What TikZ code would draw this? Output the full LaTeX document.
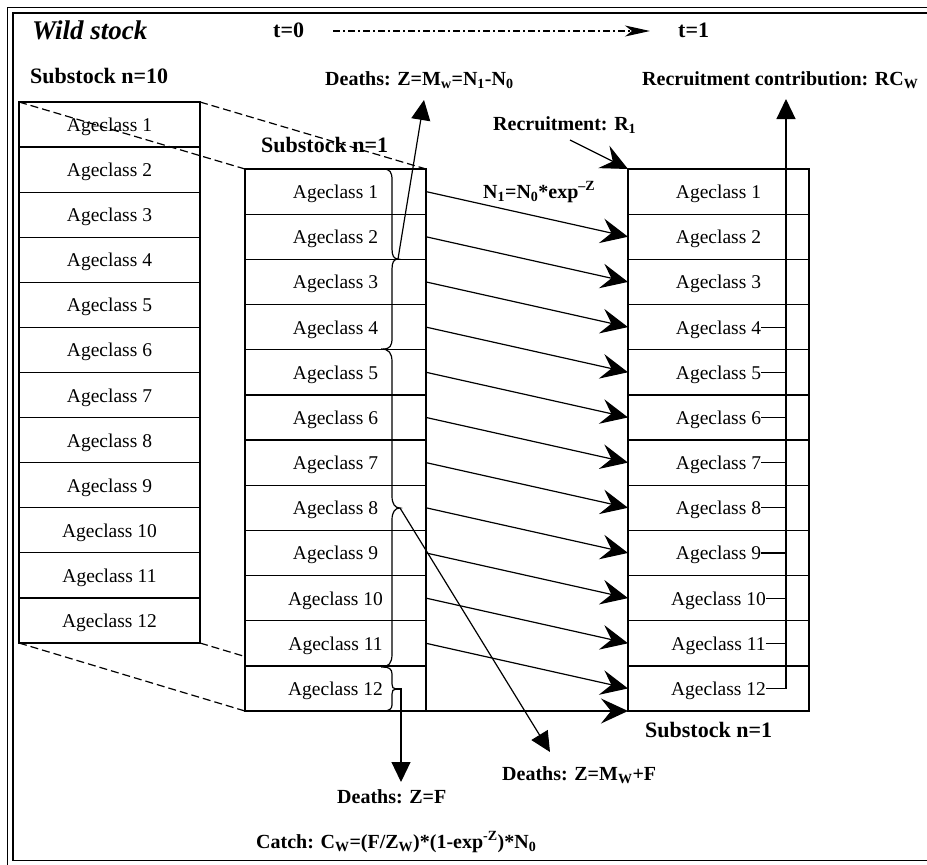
\documentclass[tikz,border=0pt]{standalone}
\usepackage{fontspec}
\setmainfont{Liberation Serif}
\usetikzlibrary{arrows.meta}
\begin{document}
\begin{tikzpicture}[x=1pt,y=-1pt,
  boxline/.style={draw,line width=1.3pt},
  agetxt/.style={font=\fontsize{19.5}{22}\selectfont,anchor=base,inner sep=0pt},
  lbl/.style={font=\fontsize{20}{24}\selectfont\bfseries,anchor=base west,inner sep=0pt},
  biglbl/.style={font=\fontsize{22}{26}\selectfont\bfseries,anchor=base west,inner sep=0pt},
  flow/.style={line width=1.2pt,-{Stealth[length=27pt,width=25pt,inset=10pt]}},
  uparrow/.style={line width=1.2pt,-{Triangle[length=20pt,width=19pt]}},
  bracepath/.style={line width=1.2pt},
  zoomline/.style={line width=1.2pt,dash pattern=on 8pt off 4pt},
  timeline/.style={line width=1.2pt,dash pattern=on 7pt off 3pt on 2pt off 3pt,-{Stealth[length=25pt,width=11pt,inset=7pt]}}
]
\useasboundingbox (0,0) rectangle (927,865);
\clip (0,0) rectangle (927,865);
\fill[white] (0,0) rectangle (927,865);
% frame
\draw[line width=1.4pt] (7.5,7.5) rectangle (960,865.5);
\draw[line width=1.4pt] (13,13) rectangle (950,860.5);

% titles
\node[font=\fontsize{27}{30}\selectfont\bfseries\itshape,anchor=base west,inner sep=0pt] (wild) at (32,39) {Wild stock};
\node[biglbl] (t0) at (273,37.5) {t=0};
\node[biglbl] (t1) at (678,37.5) {t=1};
\coordinate (tstart) at (333,31);
\coordinate (tend) at (650,31);
\draw[timeline] (tstart) -- (tend);

\node[biglbl] (sub10) at (30,83) {Substock n=10};
\node[lbl] (dmw) at (325,85) {Deaths: Z=M\textsubscript{w}=N\textsubscript{1}-N\textsubscript{0}};
\node[lbl] (rcw) at (642,85) {Recruitment contribution: RC\textsubscript{W}};
\node[lbl] (rec) at (493,130) {Recruitment: R\textsubscript{1}};

% left box (substock n=10)
\foreach \i in {1,...,12}{
  \pgfmathsetmacro{\ya}{102+(\i-1)*45.08}
  \pgfmathsetmacro{\yb}{102+\i*45.08}
  \draw[boxline] (19,\ya) rectangle (200,\yb);
  \node[agetxt] (L\i) at (109.5,{(\ya+\yb)/2+7}) {Ageclass \i};
}
\coordinate (Ltl) at (19,102);
\coordinate (Ltr) at (200,102);
\coordinate (Lbl) at (19,643);
\coordinate (Lbr) at (200,643);

\node[biglbl] (sub1m) at (261,152) {Substock n=1};

\coordinate (Mtl) at (245,169);
\coordinate (Mtr) at (426,169);
\coordinate (Mbl) at (245,711);
\coordinate (Mbr) at (426,711);
\draw[zoomline] (Ltl) -- (Mtl);
\draw[zoomline] (Ltr) -- (Mtr);
\draw[zoomline] (Lbl) -- (Mbl);
\draw[zoomline] (Lbr) -- (Mbr);

% middle box and right box
\foreach \i in {1,...,12}{
  \pgfmathsetmacro{\ya}{169+(\i-1)*45.17}
  \pgfmathsetmacro{\yb}{169+\i*45.17}
  \draw[boxline,fill=white] (245,\ya) rectangle (426,\yb);
  \node[agetxt] (M\i) at (335.5,{(\ya+\yb)/2+7}) {Ageclass \i};
  \coordinate (Me\i) at (426,{(\ya+\yb)/2});
  \draw[boxline,fill=white] (628,\ya) rectangle (809,\yb);
  \node[agetxt] (R\i) at (718.5,{(\ya+\yb)/2+7}) {Ageclass \i};
  \coordinate (Rw\i) at (628,{(\ya+\yb)/2});
  \coordinate (Rc\i) at (786,{(\ya+\yb)/2});
}
\coordinate (Rtl) at (628,169);
\coordinate (Rbl) at (628,711);

% transitions
\foreach \i [evaluate=\i as \j using int(\i+1)] in {1,...,11}{
  \draw[flow] (Me\i) -- (Rw\j);
}
\draw[flow] (Mbr) -- (Rbl);
\node[lbl] (n1eq) at (483,198) {N\textsubscript{1}=N\textsubscript{0}*exp\textsuperscript{--Z}};

% recruitment
\coordinate (recstart) at (570,140);
\draw[flow] (recstart) -- (Rtl);

% recruitment contribution line
\coordinate (rctop) at (786,99);
\foreach \i in {4,...,11}{
  \draw[line width=1.2pt] (R\i.east |- Rc\i) -- (Rc\i);
}
\draw[uparrow] (R12.east |- Rc12) -- (Rc12) -- (rctop);

% braces
\coordinate (b1) at (398,259);
\coordinate (b2) at (400,508);
\coordinate (b3) at (396,689);
\draw[bracepath] (383,169) .. controls (390,169) and (392,172) .. (392,180) -- (392,249)
  .. controls (392,256) and (394,259) .. (b1)
  .. controls (394,259) and (392,262) .. (392,269) -- (392,338)
  .. controls (392,346) and (390,349) .. (383,349);
\draw[bracepath] (381,349) .. controls (389,349) and (392,353) .. (392,362) -- (392,496)
  .. controls (392,504) and (395,508) .. (b2)
  .. controls (395,508) and (392,512) .. (392,520) -- (392,654)
  .. controls (392,663) and (389,667) .. (381,667);
\draw[bracepath] (383,667) .. controls (389,667) and (392,669) .. (392,674) -- (392,684)
  .. controls (392,687) and (393,689) .. (b3)
  .. controls (393,689) and (392,691) .. (392,694) -- (392,705)
  .. controls (392,709) and (389,711) .. (383,711);
\coordinate (b3t) at (402,689);
\draw[line width=1.2pt] (b3) -- (b3t);

\coordinate (dmwtip) at (424,100);
\coordinate (dftip) at (401,782);
\coordinate (dmwftip) at (550,752);
\draw[uparrow] (b1) -- (dmwtip);
\draw[uparrow] (401,689) -- (dftip);
\draw[uparrow] (b2) -- (dmwftip);

% bottom labels
\node[biglbl] (sub1r) at (645,737) {Substock n=1};
\node[lbl] (dmwf) at (502,780) {Deaths: Z=M\textsubscript{W}+F};
\node[lbl] (dz) at (337,803) {Deaths: Z=F};
\node[lbl] (catch) at (256,848) {Catch: C\textsubscript{W}=(F/Z\textsubscript{W})*(1-exp\textsuperscript{-Z})*N\textsubscript{0}};
\end{tikzpicture}
\end{document}
